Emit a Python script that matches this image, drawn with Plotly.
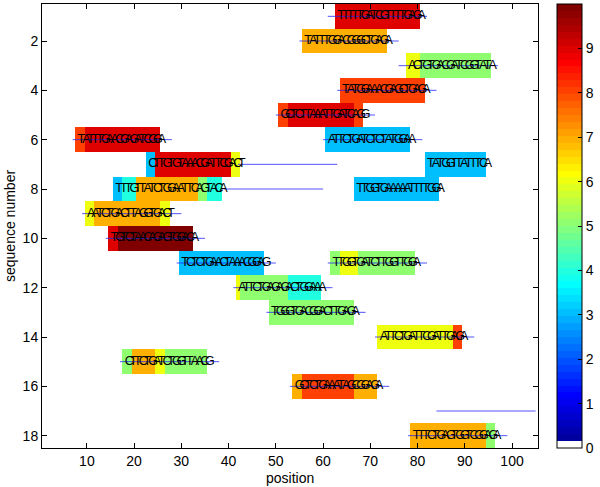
import math
import numpy as np
import plotly.graph_objects as go

# ---------------- data ----------------
# sequence segments (row, first position, letters)
seq_rows = [1, 2, 3, 4, 5, 6, 6, 7, 7, 8, 8, 9, 10, 11, 11, 12, 13, 14, 15, 16, 18]
seq_starts = [63, 56, 78, 64, 51, 8, 61, 23, 82, 16, 67, 10, 15, 30, 62, 42, 49, 72, 18, 54, 79]
seq_texts = [
    "TTTTTGATCGTTTTGAGA",
    "TATTTGGACGGGCTGAGA",
    "ACTGTGACGATCGGTATA",
    "TATGGAAACGAGCTGAGA",
    "GCTCTTAAATTGATCAGG",
    "TATTTGAACGAGATCGGA",
    "ATTCTGATCTCTATGGAA",
    "CTTGTGTAAACGATTCGACT",
    "TATGGTTATTTCA",
    "TTTGTTATCTGGAATTCAGTACA",
    "TTGGTGAAAAATTTTGGA",
    "AATCTGACTTAGGTGACT",
    "TGTCTAACAGAGTGGACA",
    "TCTCTGAACTAAACGGAG",
    "TTGGTGATCTTGGTTGGA",
    "ATTCTGAGAGACTGGAAA",
    "TGGGTGACGGACTTGAGA",
    "ATTCTGATTCGATTGAGA",
    "CTTCTGATCTGGTTAACG",
    "GCTCTGAAATAGCGGAGA",
    "TTTCTGAGTGGTCGGAGA",
]

# colour runs (row, first position, last position, value)
run_rows = [1, 2, 3, 3, 4, 5, 5, 5, 6, 6, 6, 7, 7, 7, 7,
            8, 8, 8, 8, 8, 8, 9, 9, 9, 10, 10,
            11, 11, 11, 11, 12, 12, 12, 13, 14, 14,
            15, 15, 15, 15, 16, 16, 16, 18, 18]
run_starts = [63, 56, 78, 81, 64, 51, 53, 67, 8, 10, 61, 23, 25, 41, 82,
              16, 18, 21, 34, 36, 67, 10, 12, 26, 15, 17,
              30, 62, 64, 68, 42, 43, 53, 49, 72, 88,
              18, 20, 25, 27, 54, 56, 67, 79, 95]
run_ends = [80, 73, 80, 95, 81, 52, 66, 68, 9, 25, 78, 24, 40, 42, 94,
            17, 20, 33, 35, 38, 84, 11, 25, 27, 16, 32,
            47, 63, 67, 79, 42, 52, 59, 66, 87, 89,
            19, 24, 26, 35, 55, 66, 71, 94, 96]
run_values = [9, 7, 6, 5, 8, 8, 9, 8, 8, 9, 3, 3, 9, 6, 3,
              3, 4, 7, 5, 4, 3, 6, 7, 6, 9, 10,
              3, 5, 6, 5, 6, 5, 4, 5, 6, 8,
              5, 7, 6, 5, 7, 8, 7, 7, 5]

# blue range lines (row, start, end)
line_rows = [1, 2, 3, 4, 5, 6, 6, 7, 8, 9, 10, 11, 11, 12, 13, 14, 15, 16, 17, 18]
line_starts = [61, 55, 76, 63, 50, 7, 60, 42, 39, 9, 14, 29, 61, 41, 48, 71, 17, 53, 84, 78]
line_ends = [82, 76, 97, 84, 71, 28, 81, 63, 60, 30, 35, 50, 82, 62, 69, 92, 38, 74, 105, 99]

n_rows = 18
n_pos = 105
x_ticks = [10, 20, 30, 40, 50, 60, 70, 80, 90, 100]
y_ticks = [2, 4, 6, 8, 10, 12, 14, 16, 18]
cbar_ticks = [0, 1, 2, 3, 4, 5, 6, 7, 8, 9, 10]
x_title = "position"
y_title = "sequence number"

# ---------------- colormap (MATLAB jet(64), first entry white) ----------------
def jet(m):
    n = math.ceil(m / 4)
    u = np.concatenate([np.arange(1, n + 1) / n, np.ones(n - 1), np.arange(n, 0, -1) / n])
    g = math.ceil(n / 2) - (1 if m % 4 == 1 else 0) + np.arange(1, len(u) + 1)
    r = g + n
    b = g - n
    J = np.zeros((m, 3))
    for col, idx in ((0, r), (1, g), (2, b)):
        mask = (idx >= 1) & (idx <= m)
        J[idx[mask] - 1, col] = u[mask]
    return J

cmap = jet(64)
cmap[0] = [1, 1, 1]
colorscale = []
for i, c in enumerate(cmap):
    col = "rgb(%d,%d,%d)" % tuple(int(round(v * 255)) for v in c)
    colorscale.append([i / 64, col])
    colorscale.append([(i + 1) / 64, col])

# ---------------- build matrix ----------------
z = np.full((n_rows, n_pos), np.nan)
for r, s, e, v in zip(run_rows, run_starts, run_ends, run_values):
    z[r - 1, s - 1:e] = v

xs = list(range(1, n_pos + 1))
ys = list(range(1, n_rows + 1))

font_family = "Liberation Sans, Arial, Helvetica"

fig = go.Figure()
fig.add_trace(go.Heatmap(
    z=z, x=xs, y=ys, zmin=0, zmax=10, colorscale=colorscale,
    hoverongaps=False,
    colorbar=dict(
        x=1.038, xanchor="left", xpad=0, y=0.5, yanchor="middle", ypad=0,
        len=1.0, lenmode="fraction", thickness=25, thicknessmode="pixels",
        outlinecolor="black", outlinewidth=1,
        tickvals=cbar_ticks, ticks="inside", ticklen=4, tickcolor="black",
        tickfont=dict(family=font_family, size=14, color="black"),
    ),
))

# blue lines
lx, ly = [], []
for r, s, e in zip(line_rows, line_starts, line_ends):
    lx += [s, e, None]
    ly += [r, r, None]
fig.add_trace(go.Scatter(x=lx, y=ly, mode="lines",
                         line=dict(color="rgba(40,40,255,0.8)", width=1),
                         hoverinfo="skip", showlegend=False))

# letters
tx, ty, tt = [], [], []
for r, s, seq in zip(seq_rows, seq_starts, seq_texts):
    for i, ch in enumerate(seq):
        tx.append(s + i)
        ty.append(r)
        tt.append(ch)
fig.add_trace(go.Scatter(x=tx, y=ty, text=tt, mode="text",
                         textposition="middle right",
                         textfont=dict(family=font_family, size=12.5, color="black"),
                         hoverinfo="skip", showlegend=False))

axis_font = dict(family=font_family, size=14, color="black")
fig.update_layout(
    width=600, height=487,
    margin=dict(l=42, r=62, t=4, b=39, autoexpand=False),
    paper_bgcolor="white", plot_bgcolor="white",
    showlegend=False,
    xaxis=dict(range=[0.5, 105.5], tickvals=x_ticks, ticks="inside", ticklen=5,
               tickcolor="black", showline=True, linecolor="black", linewidth=1,
               mirror="ticks", showgrid=False, zeroline=False, tickfont=axis_font,
               automargin=False),
    yaxis=dict(range=[18.5, 0.5], tickvals=y_ticks, ticks="inside", ticklen=5,
               tickcolor="black", showline=True, linecolor="black", linewidth=1,
               mirror="ticks", showgrid=False, zeroline=False, tickfont=axis_font,
               automargin=False),
    annotations=[
        dict(text=x_title, xref="paper", yref="paper", x=0.5, y=0, yshift=-30,
             xanchor="center", yanchor="middle", showarrow=False, font=axis_font),
        dict(text=y_title, xref="paper", yref="paper", x=0, y=0.5, xshift=-32,
             xanchor="center", yanchor="middle", textangle=-90, showarrow=False,
             font=axis_font),
    ],
)

fig.write_html("out.html", config={"displayModeBar": False},
               post_script="document.body.style.margin='0';document.body.style.overflow='hidden';")
